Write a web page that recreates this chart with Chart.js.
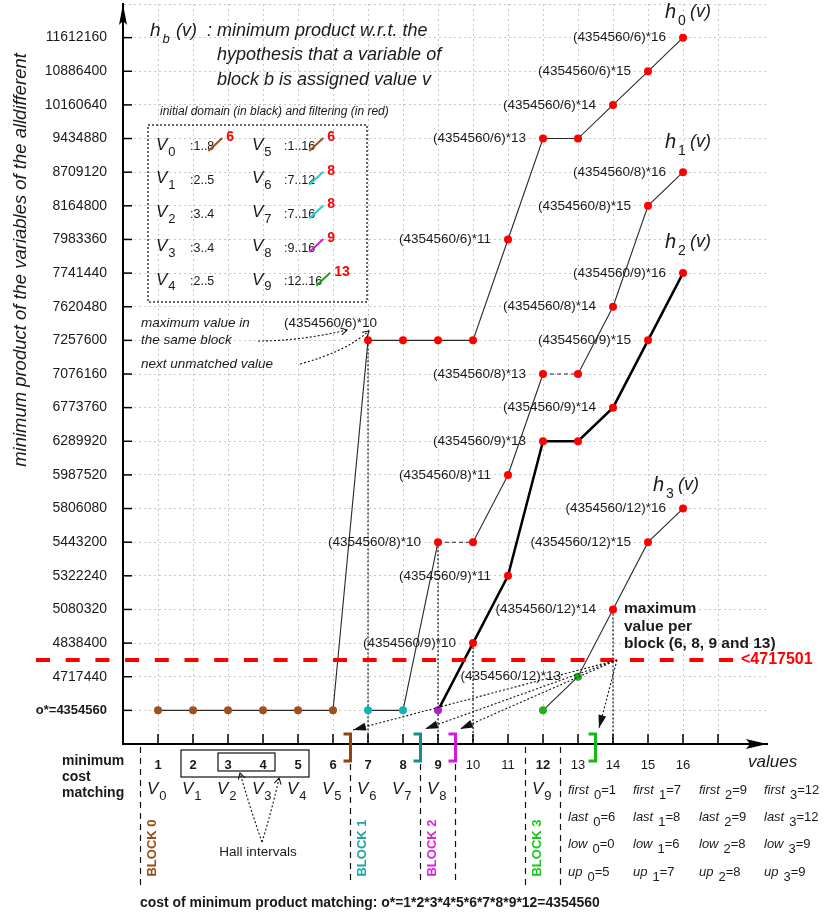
<!DOCTYPE html>
<html>
<head>
<meta charset="utf-8">
<script src="https://cdn.jsdelivr.net/npm/chart.js@4.4.1/dist/chart.umd.min.js"></script>
<style>
  html, body { margin: 0; padding: 0; background: #fff; }
</style>
</head>
<body>
<canvas id="chart" width="828" height="917"></canvas>
<script>
// one row per product value (the vertical axis is not linear)
const yLabels = [4354560, 4717440, 4838400, 5080320, 5322240, 5443200, 5806080, 5987520,
  6289920, 6773760, 7076160, 7257600, 7620480, 7741440, 7983360, 8164800, 8709120,
  9434880, 10160640, 10886400, 11612160];
const values = [1, 2, 3, 4, 5, 6, 7, 8, 9, 10, 11, 12, 13, 14, 15, 16];
const boldValues = [1, 2, 3, 4, 5, 6, 7, 8, 9, 12];
const oStar = 4354560;
const bound = 4717501;

// blocks
const blockFirst = [1, 7, 9, 12];
const blockLast = [6, 8, 9, 12];
const blockLow = [0, 6, 8, 9];
const blockUp = [5, 7, 8, 9];
const blockMax = [6, 8, 9, 13];
const blockDiv = [6, 8, 9, 12];

// h_b(v), starting at v = blockFirst[b]
const h0 = [4354560, 4354560, 4354560, 4354560, 4354560, 4354560, 7257600, 7257600, 7257600,
  7257600, 7983360, 9434880, 9434880, 10160640, 10886400, 11612160];
const h1 = [4354560, 4354560, 5443200, 5443200, 5987520, 7076160, 7076160, 7620480, 8164800, 8709120];
const h2 = [4354560, 4838400, 5322240, 6289920, 6289920, 6773760, 7257600, 7741440];
const h3 = [4354560, 4717440, 5080320, 5443200, 5806080];
const series = [h0, h1, h2, h3];

// variables, domains and filtering
const varDomains = [':1..8', ':2..5', ':3..4', ':3..4', ':2..5', ':1..16', ':7..12', ':7..16', ':9..16', ':12..16'];
const varFiltered = [6, null, null, null, null, 6, 8, 8, 9, 13];
const varBlock = [0, null, null, null, null, 0, 1, 1, 2, 3];
const matching = [1, 2, 3, 4, 5, 6, 7, 8, 9, 12];

const FAM = '"Liberation Sans", Arial, sans-serif';
const INK = '#1a1a1a';
const RED = '#ff0000';
const blockColors = ['#a0501a', '#12b4b4', '#b41ec4', '#22b022'];
const bracketColors = ['#94420c', '#12908f', '#d41ad8', '#18b818'];
const labelColors = ['#9a4a12', '#1aa6a6', '#e01ee0', '#1ec41e'];
const slashColors = ['#a0501a', '#22cccc', '#cc22cc', '#18a818'];

function font(size, style) { return (style || '') + ' ' + size + 'px ' + FAM; }

function put(ctx, s, x, y, f, color, align) {
  ctx.font = f;
  ctx.fillStyle = color || INK;
  ctx.textAlign = align || 'left';
  ctx.textBaseline = 'middle';
  ctx.fillText(s, x, y);
  return x + ctx.measureText(s).width;
}

function fitSize(ctx, s, style, target) {
  ctx.font = font(20, style);
  return 20 * target / ctx.measureText(s).width;
}

function head(ctx, x, y, ang, len, half, filled) {
  ctx.save();
  ctx.setLineDash([]);
  ctx.translate(x, y);
  ctx.rotate(ang);
  ctx.beginPath();
  ctx.moveTo(-len, -half);
  ctx.lineTo(0, 0);
  ctx.lineTo(-len, half);
  if (filled) { ctx.closePath(); ctx.fill(); } else { ctx.stroke(); }
  ctx.restore();
}

function dottedArrow(ctx, x0, y0, cx, cy, x1, y1, filled) {
  ctx.save();
  ctx.strokeStyle = '#111';
  ctx.fillStyle = '#111';
  ctx.lineWidth = 1.1;
  ctx.setLineDash([2, 2]);
  ctx.beginPath();
  ctx.moveTo(x0, y0);
  ctx.quadraticCurveTo(cx, cy, x1, y1);
  ctx.stroke();
  const ang = Math.atan2(y1 - cy, x1 - cx);
  if (filled) head(ctx, x1, y1, ang, 13, 4, true);
  else head(ctx, x1, y1, ang, 6, 3.5, false);
  ctx.restore();
}

const notes = {
  id: 'notes',
  beforeDatasetsDraw(chart) {
    const { ctx, scales: { x, y } } = chart;
    ctx.save();
    // drop lines from the first value past each block's maximum
    ctx.setLineDash([2, 2]);
    ctx.strokeStyle = '#111';
    ctx.lineWidth = 1.2;
    series.forEach((arr, b) => {
      const v = blockMax[b] + 1;
      const row = yLabels.indexOf(arr[v - blockFirst[b]]);
      ctx.beginPath();
      ctx.moveTo(x.getPixelForValue(v), y.getPixelForValue(row));
      ctx.lineTo(x.getPixelForValue(v), y.getPixelForValue(-1));
      ctx.stroke();
    });
    ctx.restore();
  },
  afterDatasetsDraw(chart) {
    const { ctx, scales: { x, y } } = chart;
    // bound line
    const boundRow = yLabels.findIndex(v => v > bound) - 0.5;
    const by = y.getPixelForValue(boundRow);
    ctx.save();
    ctx.strokeStyle = RED;
    ctx.lineWidth = 4;
    ctx.setLineDash([14, 15.7]);
    ctx.beginPath();
    ctx.moveTo(36, by);
    ctx.lineTo(733, by);
    ctx.stroke();
    ctx.restore();
    put(ctx, '<' + bound, 741, by, font(16, 'bold'), RED);

    // point labels
    series.forEach((arr, b) => {
      const unit = oStar / blockDiv[b];
      arr.forEach((v, i) => {
        if (v === oStar || v === arr[i - 1]) return;
        const px = x.getPixelForValue(blockFirst[b] + i);
        const py = y.getPixelForValue(yLabels.indexOf(v));
        const s = '(' + oStar + '/' + blockDiv[b] + ')*' + (v / unit);
        if (b === 0 && i === 6) put(ctx, s, px + 9, py - 17, font(13.5), INK, 'right');
        else put(ctx, s, px - 17, py, font(13.5), INK, 'right');
      });
    });
  },
  afterDraw(chart) {
    const { ctx, chartArea: ca, scales: { x, y } } = chart;
    const x0 = x.getPixelForValue(0);
    const yAxis = y.getPixelForValue(-1);

    // axis arrows and inner ticks
    ctx.save();
    ctx.fillStyle = '#000';
    ctx.beginPath();
    ctx.moveTo(x0, 4); ctx.lineTo(x0 - 4, 25); ctx.lineTo(x0, 21); ctx.lineTo(x0 + 4, 25); ctx.closePath();
    ctx.fill();
    ctx.beginPath();
    ctx.moveTo(ca.right, yAxis); ctx.lineTo(ca.right - 21, yAxis - 5); ctx.lineTo(ca.right - 17, yAxis);
    ctx.lineTo(ca.right - 21, yAxis + 5); ctx.closePath();
    ctx.fill();
    ctx.strokeStyle = '#000';
    ctx.lineWidth = 1.5;
    for (let i = 0; i < yLabels.length; i++) {
      const ty = y.getPixelForValue(i);
      ctx.beginPath(); ctx.moveTo(x0, ty); ctx.lineTo(x0 + 9, ty); ctx.stroke();
    }
    for (let v = 1; v <= 17; v++) {
      const tx = x.getPixelForValue(v);
      ctx.beginPath(); ctx.moveTo(tx, yAxis); ctx.lineTo(tx, yAxis - 10); ctx.stroke();
    }
    ctx.restore();

    // y title
    const yt = 'minimum product of the variables of the alldifferent';
    ctx.save();
    ctx.translate(21, 260);
    ctx.rotate(-Math.PI / 2);
    put(ctx, yt, 0, 0, font(fitSize(ctx, yt, 'italic', 414), 'italic'), INK, 'center');
    ctx.restore();

    // heading
    let e = put(ctx, 'h', 150, 31, font(19, 'italic'));
    e = put(ctx, 'b', e + 2, 39, font(13, 'italic'));
    put(ctx, '(v)', 176, 31, font(18, 'italic'));
    put(ctx, ':', 207, 31, font(18, 'italic'));
    put(ctx, 'minimum product w.r.t. the', 217, 31, font(18, 'italic'));
    put(ctx, 'hypothesis that a variable of', 217, 55, font(18, 'italic'));
    put(ctx, 'block b is assigned value v', 217, 80, font(18, 'italic'));
    put(ctx, 'initial domain (in black) and filtering (in red)', 160, 112, font(12, 'italic'));

    // domain box
    ctx.save();
    ctx.strokeStyle = '#333';
    ctx.lineWidth = 1.5;
    ctx.setLineDash([2, 2]);
    ctx.strokeRect(148, 125, 219, 177);
    ctx.restore();
    varDomains.forEach((d, i) => {
      const col = i < 5 ? 0 : 1;
      const ry = 147 + (i % 5) * 33.7;
      const vx = col === 0 ? 156 : 252;
      const dx = col === 0 ? 190 : 284;
      let ve = put(ctx, 'V', vx, ry - 2, font(17, 'italic'));
      put(ctx, String(i), ve + 1, ry + 5, font(13));
      const de = put(ctx, d, dx, ry, font(12.5));
      if (varFiltered[i] !== null) {
        ctx.font = font(12.5);
        const lastW = ctx.measureText(d.slice(-1)).width;
        const ls = de - lastW;
        ctx.save();
        ctx.strokeStyle = slashColors[varBlock[i]];
        ctx.lineWidth = 2;
        ctx.beginPath();
        ctx.moveTo(ls + 1, ry + 4);
        ctx.lineTo(de + 8, ry - 9);
        ctx.stroke();
        ctx.restore();
        put(ctx, String(varFiltered[i]), de + 12, ry - 10, font(14, 'bold'), RED);
      }
    });

    // notes around (4354560/6)*10
    put(ctx, 'maximum value in', 141, 323, font(13.5, 'italic'));
    put(ctx, 'the same block', 141, 340, font(13.5, 'italic'));
    put(ctx, 'next unmatched value', 141, 364, font(13.5, 'italic'));
    dottedArrow(ctx, 258, 341, 300, 341, 347, 330, false);
    dottedArrow(ctx, 300, 364, 345, 352, 369, 331, false);

    // h_b(v) curve names
    const hPos = [[665, 12], [665, 142], [665, 242], [653, 485]];
    hPos.forEach(([hx, hy], b) => {
      put(ctx, 'h', hx, hy, font(20, 'italic'));
      put(ctx, String(b), hx + 13, hy + 9, font(14));
      put(ctx, '(v)', hx + 25, hy, font(18, 'italic'));
    });

    // maximum value per block
    put(ctx, 'maximum', 624, 609, font(15.5, 'bold'));
    put(ctx, 'value per', 624, 627, font(15.5, 'bold'));
    put(ctx, 'block (' + blockMax.slice(0, 3).join(', ') + ' and ' + blockMax[3] + ')', 624, 644, font(15.5, 'bold'));

    // brackets at each block's maximum value
    blockMax.forEach((m, b) => {
      const bx = x.getPixelForValue(m + 0.5);
      ctx.save();
      ctx.strokeStyle = bracketColors[b];
      ctx.lineWidth = 3;
      ctx.beginPath();
      ctx.moveTo(bx - 7, 734); ctx.lineTo(bx, 734); ctx.lineTo(bx, 761); ctx.lineTo(bx - 7, 761);
      ctx.stroke();
      ctx.restore();
    });
    const targets = [[353, 730], [425, 729], [460, 729], [599, 728]];
    targets.forEach(([tx, ty], b) => {
      const cx = (617 + tx) / 2, cy = (660 + ty) / 2;
      dottedArrow(ctx, 617, 660, cx, cy, tx, ty, true);
    });

    // axis name
    put(ctx, 'values', 748, 762, font(17, 'italic'));

    // below the axis
    put(ctx, 'minimum', 62, 761, font(14, 'bold'));
    put(ctx, 'cost', 62, 777, font(14, 'bold'));
    put(ctx, 'matching', 62, 793, font(14, 'bold'));

    // Hall interval boxes
    ctx.save();
    ctx.strokeStyle = '#111';
    ctx.lineWidth = 1.2;
    ctx.strokeRect(x.getPixelForValue(2) - 12, 750, x.getPixelForValue(5) - x.getPixelForValue(2) + 23, 27);
    ctx.strokeRect(x.getPixelForValue(3) - 10, 753, x.getPixelForValue(4) - x.getPixelForValue(3) + 22, 18);
    ctx.restore();
    dottedArrow(ctx, 262, 842, 250, 808, 240, 773, false);
    dottedArrow(ctx, 262, 842, 272, 810, 279, 778, false);
    put(ctx, 'Hall intervals', 258, 852, font(13.5), INK, 'center');

    matching.forEach((v, i) => {
      const vx = x.getPixelForValue(v) - 11;
      const ve = put(ctx, 'V', vx, 789, font(17, 'italic'));
      put(ctx, String(i), ve + 1, 796, font(13));
    });

    // block separators
    const seps = [...new Set([...blockFirst.map(v => v - 0.5), ...blockLast.map(v => v + 0.5)])];
    ctx.save();
    ctx.strokeStyle = '#111';
    ctx.lineWidth = 1.2;
    ctx.setLineDash([6, 5]);
    seps.forEach(s => {
      const sx = x.getPixelForValue(s);
      const top = blockMax.includes(s - 0.5) ? 764 : 747;
      ctx.beginPath(); ctx.moveTo(sx, top); ctx.lineTo(sx, 885); ctx.stroke();
    });
    ctx.restore();

    blockFirst.forEach((f, b) => {
      ctx.save();
      ctx.translate(x.getPixelForValue(f - 0.5) + 12, 848);
      ctx.rotate(-Math.PI / 2);
      put(ctx, 'BLOCK ' + b, 0, 0, font(13, 'bold'), labelColors[b], 'center');
      ctx.restore();
    });

    // first / last / low / up table
    const rows = [['first', blockFirst], ['last', blockLast], ['low', blockLow], ['up', blockUp]];
    const colX = [568, 633, 699, 764];
    rows.forEach(([name, arr], r) => {
      const ry = 790 + r * 27.4;
      arr.forEach((v, b) => {
        let te = put(ctx, name, colX[b], ry, font(13, 'italic'));
        te = put(ctx, String(b), te + 5, ry + 5, font(13));
        put(ctx, '=' + v, te, ry, font(13));
      });
    });

    const cost = 'cost of minimum product matching: o*=' + matching.join('*') + '=' + oStar;
    put(ctx, cost, 140, 903, font(fitSize(ctx, cost, 'bold', 460), 'bold'));
  }
};

const datasets = series.map((arr, b) => ({
  data: arr.map((v, i) => ({ x: blockFirst[b] + i, y: yLabels.indexOf(v) })),
  borderColor: b === 2 ? '#000' : '#2a2a2a',
  borderWidth: b === 2 ? 2.5 : 1.1,
  pointRadius: 4,
  pointHoverRadius: 4,
  pointBorderWidth: 0,
  pointBackgroundColor: c => (c.raw && c.raw.x <= blockMax[b] ? blockColors[b] : RED),
  segment: b === 1 ? {
    borderDash: c => (c.p0.parsed.y === c.p1.parsed.y && c.p0.parsed.y > 0 ? [4, 3] : undefined)
  } : undefined,
  tension: 0,
  fill: false
}));

const xTicks = values.concat([17]);
const yTicks = yLabels.map((_, i) => i).concat([yLabels.length]);

new Chart(document.getElementById('chart'), {
  type: 'line',
  data: { datasets },
  options: {
    responsive: false,
    animation: false,
    events: [],
    layout: { padding: { top: 3, right: 61, bottom: 0, left: 0 } },
    plugins: { legend: { display: false }, tooltip: { enabled: false } },
    scales: {
      x: {
        type: 'linear',
        min: 0,
        max: 18.4,
        afterBuildTicks: s => { s.ticks = xTicks.map(v => ({ value: v })); },
        afterFit: s => { s.height = 173; s.paddingLeft = 0; s.paddingRight = 0; },
        grid: { color: '#c8c8c8', lineWidth: 1, drawTicks: false },
        border: { display: true, color: '#000', width: 2, dash: [2, 3] },
        ticks: {
          autoSkip: false,
          maxRotation: 0,
          padding: 14,
          color: INK,
          font: c => ({ family: FAM, size: 13, weight: c.tick && boldValues.includes(c.tick.value) ? 'bold' : 'normal' }),
          callback: v => (values.includes(v) ? String(v) : '')
        }
      },
      y: {
        type: 'linear',
        min: -1,
        max: yLabels.length,
        afterBuildTicks: s => { s.ticks = yTicks.map(v => ({ value: v })); },
        afterFit: s => { s.width = 123; s.paddingTop = 0; s.paddingBottom = 0; },
        grid: { color: '#c8c8c8', lineWidth: 1, drawTicks: false },
        border: { display: true, color: '#000', width: 2, dash: [2, 3] },
        ticks: {
          autoSkip: false,
          padding: 16,
          color: INK,
          font: c => (c.tick && c.tick.value === 0
            ? { family: FAM, size: 13, weight: 'bold' }
            : { family: FAM, size: 14, weight: 'normal' }),
          callback: v => (v === 0 ? 'o*=' + oStar : (v > 0 && v < yLabels.length ? String(yLabels[v]) : ''))
        }
      }
    }
  },
  plugins: [notes]
});
</script>
</body>
</html>
